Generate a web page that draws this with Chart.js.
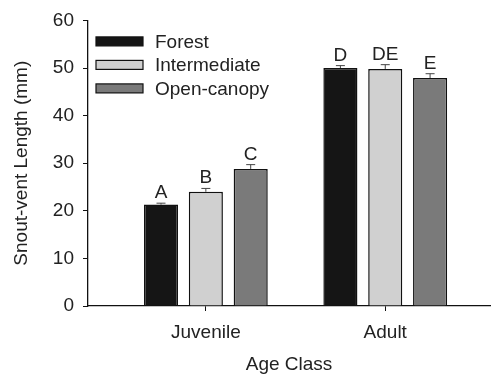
<!DOCTYPE html>
<html>
<head>
<meta charset="utf-8">
<script src="https://cdn.jsdelivr.net/npm/chart.js@4/dist/chart.umd.min.js"></script>
<style>
  html,body{margin:0;padding:0;background:#fff;}
  #wrap{width:495px;height:374px;}
</style>
</head>
<body>
<div id="wrap"><canvas id="c" width="495" height="374"></canvas></div>
<script>
// ===== data =====
const categories = ['Juvenile', 'Adult'];
const seriesNames = ['Forest', 'Intermediate', 'Open-canopy'];
const forestVals = [21.3, 50.0];
const interVals = [24.0, 49.8];
const openVals = [28.8, 47.9];
const forestErr = [0.3, 0.5];
const interErr = [0.7, 0.9];
const openErr = [0.9, 0.9];
const forestSig = ['A', 'D'];
const interSig = ['B', 'DE'];
const openSig = ['C', 'E'];
const yTicks = [0, 10, 20, 30, 40, 50, 60];

const colors = ['#151515', '#d0d0d0', '#7a7a7a'];
const FONT = "'Liberation Sans', Arial, sans-serif";
const FS = 19;
const txt = '#222';

const toPts = vals => vals.map((v, i) => ({x: i + 1, y: v}));
const allVals = [forestVals, interVals, openVals], allErr = [forestErr, interErr, openErr], allSig = [forestSig, interSig, openSig];

const datasets = seriesNames.map((n, k) => ({
  label: n, data: toPts(allVals[k]), errs: allErr[k], sig: allSig[k],
  backgroundColor: colors[k], borderColor: '#111', borderWidth: 1.5,
  categoryPercentage: 0.75, barPercentage: 0.76
}));

// error bars + significance letters
const errPlugin = {
  id: 'errs',
  afterDatasetsDraw(chart) {
    const ctx = chart.ctx, ys = chart.scales.y;
    ctx.save();
    chart.data.datasets.forEach((ds, di) => {
      chart.getDatasetMeta(di).data.forEach((bar, i) => {
        const v = ds.data[i].y, top = ys.getPixelForValue(v), cap = ys.getPixelForValue(v + ds.errs[i]);
        ctx.strokeStyle = '#444'; ctx.lineWidth = 1;
        ctx.beginPath();
        ctx.moveTo(bar.x, top); ctx.lineTo(bar.x, cap);
        ctx.moveTo(bar.x - 4.5, cap); ctx.lineTo(bar.x + 4.5, cap);
        ctx.stroke();
        ctx.fillStyle = txt; ctx.font = FS + 'px ' + FONT;
        ctx.textAlign = 'center'; ctx.textBaseline = 'alphabetic';
        ctx.fillText(ds.sig[i], bar.x, cap - 5);
      });
    });
    ctx.restore();
  }
};

// legend inside the plot, top-left
const legendPlugin = {
  id: 'inlegend',
  afterDraw(chart) {
    const ctx = chart.ctx, a = chart.chartArea;
    ctx.save();
    chart.data.datasets.forEach((ds, k) => {
      const y = a.top + 21 + k * 23.5;
      ctx.fillStyle = ds.backgroundColor;
      ctx.fillRect(a.left + 8, y - 4.5, 47, 9);
      ctx.strokeStyle = '#111'; ctx.lineWidth = 1.2;
      ctx.strokeRect(a.left + 8, y - 4.5, 47, 9);
      ctx.fillStyle = txt; ctx.font = FS + 'px ' + FONT;
      ctx.textAlign = 'left'; ctx.textBaseline = 'middle';
      ctx.fillText(ds.label, a.left + 67, y + 1);
    });
    ctx.restore();
  }
};

new Chart(document.getElementById('c'), {
  type: 'bar',
  data: {datasets},
  options: {
    responsive: false, animation: false,
    layout: {padding: {left: 6, right: 5, top: 19, bottom: 0}},
    plugins: {legend: {display: false}, tooltip: {enabled: false}},
    scales: {
      x: {
        type: 'linear', min: 0.343, max: 2.584, offset: false,
        afterBuildTicks: s => { s.ticks = categories.map((c, i) => ({value: i + 1})); },
        afterFit: s => { s.height = 374 - 306; },
        ticks: {callback: v => categories[v - 1] ?? '', color: txt, font: {family: FONT, size: FS}, padding: 10, maxRotation: 0},
        grid: {offset: false, drawOnChartArea: false, drawTicks: true, tickLength: 5, color: '#111'},
        border: {display: true, color: '#111', width: 1.3},
        title: {display: true, text: 'Age Class', color: txt, font: {family: FONT, size: FS}, padding: {top: 10, bottom: -2}}
      },
      y: {
        min: 0, max: 60,
        afterBuildTicks: s => { s.ticks = yTicks.map(v => ({value: v})); },
        afterFit: s => { s.width = 88 - 6; },
        ticks: {color: txt, font: {family: FONT, size: FS}, padding: 9},
        grid: {drawOnChartArea: false, drawTicks: true, tickLength: 5, color: '#111'},
        border: {display: true, color: '#111', width: 1.3},
        title: {display: true, text: 'Snout-vent Length (mm)', color: txt, font: {family: FONT, size: FS}, padding: {bottom: 4}}
      }
    }
  },
  plugins: [errPlugin, legendPlugin]
});
</script>
</body>
</html>
